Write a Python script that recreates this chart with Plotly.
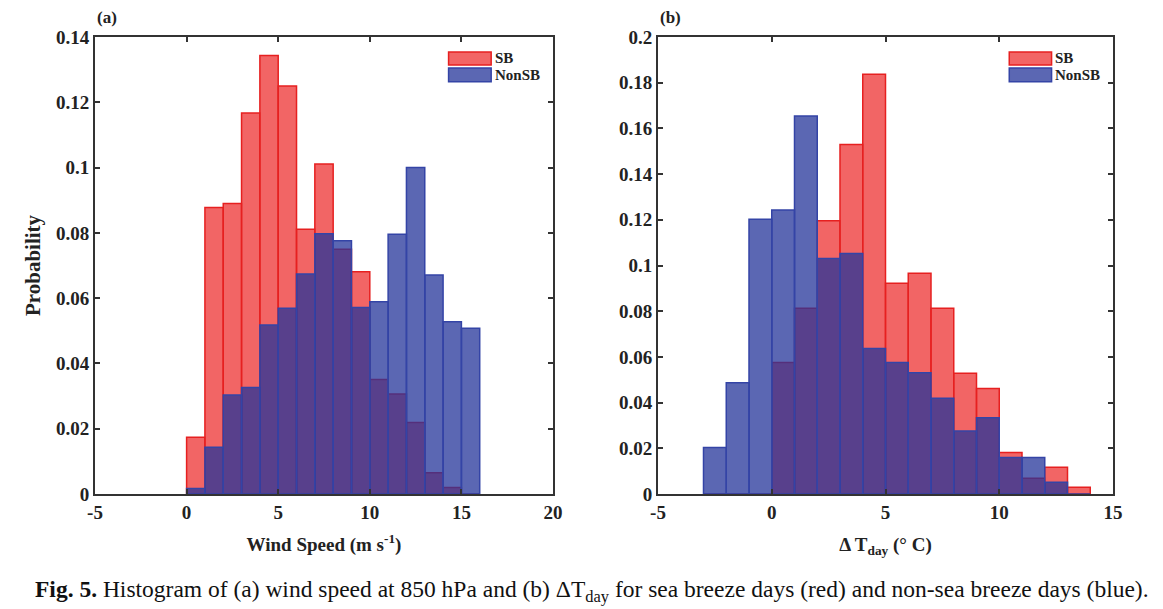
import plotly.graph_objects as go
from plotly.subplots import make_subplots

# bin left edges (bin width = 1)
ws_bins = list(range(0, 16))
ws_sb = [0.0174, 0.0878, 0.0890, 0.1167, 0.1343, 0.1250, 0.0811, 0.1011,
         0.0750, 0.0681, 0.0351, 0.0306, 0.0219, 0.0065, 0.0020, 0.0]
ws_nonsb = [0.0017, 0.0143, 0.0303, 0.0326, 0.0518, 0.0569, 0.0674, 0.0797,
            0.0776, 0.0571, 0.0589, 0.0796, 0.1000, 0.0671, 0.0528, 0.0508]

dt_bins = list(range(-3, 14))
dt_sb = [0.0, 0.0, 0.0, 0.0575, 0.0813, 0.1196, 0.1530, 0.1837, 0.0922,
         0.0966, 0.0813, 0.0528, 0.0462, 0.0182, 0.0069, 0.0117, 0.0029]
dt_nonsb = [0.0204, 0.0487, 0.1202, 0.1243, 0.1654, 0.1031, 0.1053, 0.0637,
            0.0575, 0.0531, 0.0419, 0.0276, 0.0334, 0.0160, 0.0160, 0.0051, 0.0]

ws_ticks = [-5, 0, 5, 10, 15, 20]
dt_ticks = [-5, 0, 5, 10, 15]

SERIF = "Liberation Serif"
RED_FILL = "rgba(238,50,50,0.75)"
RED_LINE = "#e62020"
BLUE_FILL = "rgba(36,52,154,0.75)"
BLUE_LINE = "#3444a6"
AX = "#333333"

# page has an 8px body margin, so the figure is a bit smaller than the window
W, H, OFF = 1155, 601, 8


def px(x):
    return (x - OFF) / W


def py(y):
    return 1 - (y - OFF) / H


fig = make_subplots(rows=1, cols=2)

for col, bins, sb, nsb in [(1, ws_bins, ws_sb, ws_nonsb), (2, dt_bins, dt_sb, dt_nonsb)]:
    fig.add_trace(go.Bar(x=bins, y=sb, width=1, offset=0, name="SB", showlegend=False,
                         marker=dict(color=RED_FILL, line=dict(color=RED_LINE, width=1.5))),
                  row=1, col=col)
    fig.add_trace(go.Bar(x=bins, y=nsb, width=1, offset=0, name="NonSB", showlegend=False,
                         marker=dict(color=BLUE_FILL, line=dict(color=BLUE_LINE, width=1.5))),
                  row=1, col=col)

tickfont = dict(family=SERIF, size=19, color="#222", weight="bold")
titlefont = dict(family=SERIF, size=19, color="#222", weight="bold")
axis_common = dict(showline=True, linecolor=AX, linewidth=2, mirror="ticks",
                   ticks="inside", ticklen=5, tickwidth=1.5, tickcolor=AX,
                   showgrid=False, zeroline=False, tickfont=tickfont, automargin=False)

fig.update_xaxes(range=[-5, 20], tickvals=ws_ticks, ticktext=[str(t) for t in ws_ticks],
                 domain=[px(95), px(553)],
                 title=dict(text="Wind Speed (m s<sup>-1</sup>)", font=titlefont, standoff=16),
                 **axis_common, row=1, col=1)
fig.update_xaxes(range=[-5, 15], tickvals=dt_ticks, ticktext=[str(t) for t in dt_ticks],
                 domain=[px(658), px(1113)],
                 title=dict(text="Δ T<sub>day</sub> (° C)", font=titlefont, standoff=16),
                 **axis_common, row=1, col=2)
fig.update_yaxes(range=[0, 0.14], dtick=0.02, domain=[py(494), py(37)],
                 title=dict(text="Probability", font=dict(family=SERIF, size=21, color="#222",
                                                          weight="bold"), standoff=10),
                 **axis_common, row=1, col=1)
fig.update_yaxes(range=[0, 0.2], dtick=0.02, domain=[py(494), py(37)],
                 **axis_common, row=1, col=2)

# legends drawn in each panel
for xr, yr in [("x domain", "y domain"), ("x2 domain", "y2 domain")]:
    fig.add_shape(type="rect", xref=xr, yref=yr, x0=0.772, x1=0.865, y0=0.939, y1=0.967,
                  fillcolor=RED_FILL, line=dict(color=RED_LINE, width=1.5))
    fig.add_shape(type="rect", xref=xr, yref=yr, x0=0.772, x1=0.865, y0=0.902, y1=0.932,
                  fillcolor=BLUE_FILL, line=dict(color=BLUE_LINE, width=1.5))
    fig.add_annotation(xref=xr, yref=yr, x=0.868, y=0.953, text="SB", showarrow=False,
                       xanchor="left", yanchor="middle",
                       font=dict(family=SERIF, size=15, color="#222", weight="bold"))
    fig.add_annotation(xref=xr, yref=yr, x=0.868, y=0.917, text="NonSB", showarrow=False,
                       xanchor="left", yanchor="middle",
                       font=dict(family=SERIF, size=15, color="#222", weight="bold"))

for xr, label in [("x domain", "(a)"), ("x2 domain", "(b)")]:
    fig.add_annotation(xref=xr, yref="paper", x=0, y=py(18), text=label,
                       showarrow=False, xanchor="left", yanchor="middle",
                       font=dict(family=SERIF, size=17, color="#222", weight="bold"))

fig.add_annotation(xref="paper", yref="paper", x=px(592), y=py(591),
                   text="<b>Fig. 5.</b> Histogram of (a) wind speed at 850 hPa and (b) ΔT<sub>day</sub> "
                        "for sea breeze days (red) and non-sea breeze days (blue).",
                   showarrow=False, xanchor="center", yanchor="middle",
                   font=dict(family=SERIF, size=23.5, color="#111"))

fig.update_layout(width=W, height=H, barmode="overlay",
                  margin=dict(l=0, r=0, t=0, b=0),
                  plot_bgcolor="white", paper_bgcolor="white")

fig.write_html("out.html")
